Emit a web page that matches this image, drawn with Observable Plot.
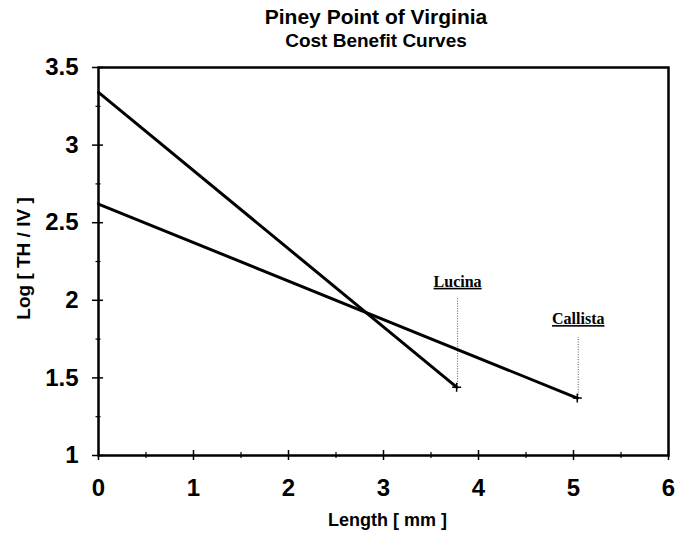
<!DOCTYPE html>
<html>
<head>
<meta charset="utf-8">
<script src="https://cdn.jsdelivr.net/npm/d3@7"></script>
<script src="https://cdn.jsdelivr.net/npm/@observablehq/plot@0.6"></script>
<style>
  html, body { margin: 0; padding: 0; background: #fff; }
  #chart svg { display: block; }
</style>
</head>
<body>
<div id="chart"></div>
<script>
// ---- data ----
const titleLines = ["Piney Point of Virginia", "Cost Benefit Curves"];
const xLabel = "Length [ mm ]";
const yLabel = "Log [ TH / IV ]";

const seriesNames = ["Lucina", "Callista"];
const lucinaX = [0, 3.77];
const lucinaY = [3.34, 1.44];
const callistaX = [0, 5.04];
const callistaY = [2.62, 1.37];

// annotation labels and dotted guides
const labelX = [3.78, 5.05];
const labelY = [2.12, 1.88];
const guideTop = [2.02, 1.76];
const guideBottom = [1.44, 1.37];

const xMajorTicks = [0, 1, 2, 3, 4, 5, 6];
const xMinorTicks = [0.5, 1.5, 2.5, 3.5, 4.5, 5.5];
const yMajorTicks = [1, 1.5, 2, 2.5, 3, 3.5];
const yMinorTicks = [1.25, 1.75, 2.25, 2.75, 3.25];

// ---- build tables ----
const lines = [
  ...lucinaX.map((x, i) => ({series: "Lucina", x, y: lucinaY[i]})),
  ...callistaX.map((x, i) => ({series: "Callista", x, y: callistaY[i]}))
];
const ends = [
  {x: lucinaX[1], y: lucinaY[1]},
  {x: callistaX[1], y: callistaY[1]}
];
const annots = seriesNames.map((name, i) => ({
  name, x: labelX[i], y: labelY[i], y1: guideBottom[i], y2: guideTop[i]
}));

const sans = "'Liberation Sans', Arial, Helvetica, sans-serif";
const serif = "'Liberation Serif', 'Times New Roman', serif";

const chart = Plot.plot({
  width: 684,
  height: 535,
  marginLeft: 98,
  marginRight: 16,
  marginTop: 67,
  marginBottom: 80,
  style: {fontFamily: sans, background: "#fff", color: "#000", overflow: "visible"},
  x: {domain: [0, 6], axis: null},
  y: {domain: [1, 3.5], axis: null},
  marks: [
    // x axis: ticks crossing the axis line
    Plot.axisX(xMajorTicks, {anchor: "bottom", tickSize: 10, dy: -5, strokeWidth: 1.5, tickFormat: () => "", label: null}),
    Plot.axisX(xMinorTicks, {anchor: "bottom", tickSize: 6, dy: -3, strokeWidth: 1.2, tickFormat: () => "", label: null}),
    Plot.axisX(xMajorTicks, {anchor: "bottom", tickSize: 0, tickPadding: 23, fontSize: 24, fontWeight: "bold", tickFormat: d => String(d), label: null}),
    // y axis
    Plot.axisY(yMajorTicks, {anchor: "left", tickSize: 11, dx: 5, strokeWidth: 1.5, tickFormat: () => "", label: null}),
    Plot.axisY(yMinorTicks, {anchor: "left", tickSize: 5, dx: 2.5, strokeWidth: 1.2, tickFormat: () => "", label: null}),
    Plot.axisY(yMajorTicks, {anchor: "left", tickSize: 0, tickPadding: 20, fontSize: 24, fontWeight: "bold", tickFormat: d => String(d), label: null}),
    Plot.frame({stroke: "#000", strokeWidth: 2.5}),
    // dotted guides
    Plot.ruleX(annots, {x: "x", y1: "y1", y2: "y2", stroke: "#555", strokeWidth: 1, strokeDasharray: "1,1.5"}),
    // lines
    Plot.line(lines, {x: "x", y: "y", z: "series", stroke: "#000", strokeWidth: 3}),
    Plot.dot(ends, {x: "x", y: "y", symbol: "plus", r: 3, stroke: "#000", strokeWidth: 1.5}),
    // annotation labels
    Plot.text(annots, {x: "x", y: "y", text: "name", fontFamily: serif, fontWeight: "bold", fontSize: 16, fill: "#000", lineAnchor: "middle"}),
    // titles
    Plot.text([titleLines[0]], {frameAnchor: "top", dy: -50, dx: -7.5, fontSize: 21, fontWeight: "bold", lineAnchor: "middle", fill: "#000"}),
    Plot.text([titleLines[1]], {frameAnchor: "top", dy: -27, dx: -7.5, fontSize: 19, fontWeight: "bold", lineAnchor: "middle", fill: "#000"}),
    Plot.text([xLabel], {frameAnchor: "bottom", dy: 65, dx: 4, fontSize: 18, fontWeight: "bold", lineAnchor: "middle", textAnchor: "middle", fill: "#000"}),
    Plot.text([yLabel], {frameAnchor: "left", dx: -75, dy: -3, rotate: -90, fontSize: 19, fontWeight: "bold", lineAnchor: "middle", textAnchor: "middle", fill: "#000"})
  ]
});

document.getElementById("chart").appendChild(chart);
// underline the series annotation labels
d3.select(chart).selectAll("text").filter(function () {
  return seriesNames.includes(this.textContent);
}).style("text-decoration", "underline");
</script>
</body>
</html>
